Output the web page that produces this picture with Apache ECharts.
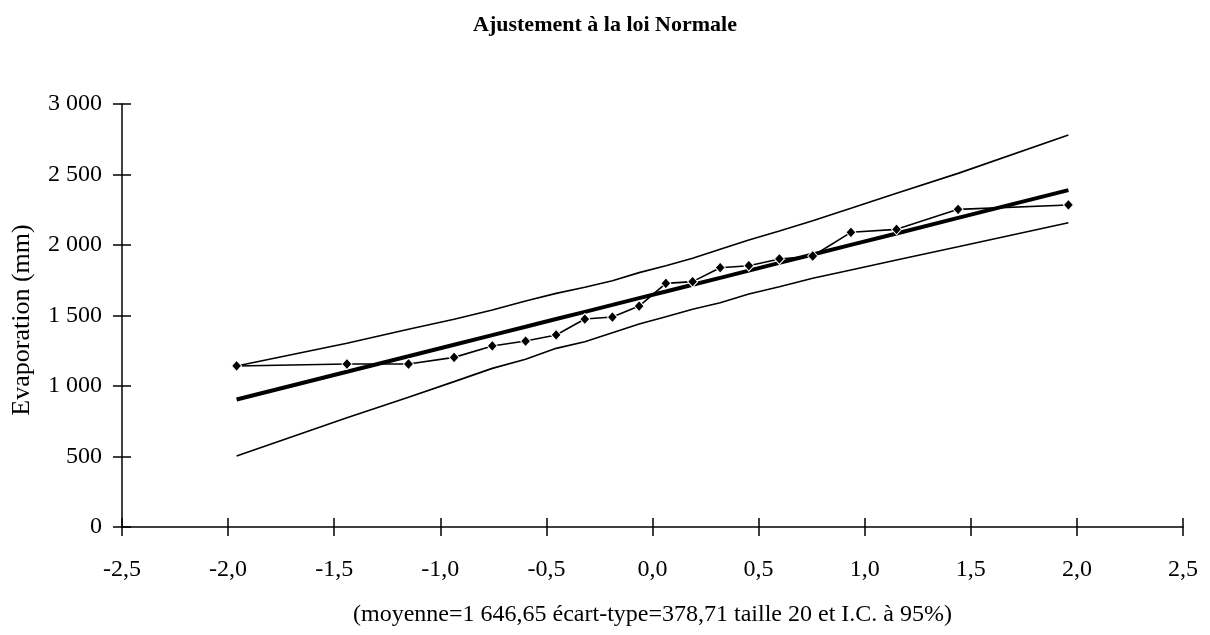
<!DOCTYPE html>
<html>
<head>
<meta charset="utf-8">
<script src="https://cdn.jsdelivr.net/npm/echarts@6/dist/echarts.min.js"></script>
<style>
  html, body { margin: 0; padding: 0; background: #fff; }
  #chart { width: 1210px; height: 635px; }
</style>
</head>
<body>
<div id="chart"></div>
<script>
// Normal quantiles of the 20 plotting positions
var zQuantiles = [-1.960, -1.440, -1.150, -0.935, -0.755, -0.598, -0.454, -0.319, -0.189, -0.063,
                  0.063, 0.189, 0.319, 0.454, 0.598, 0.755, 0.935, 1.150, 1.440, 1.960];
// Observed evaporation (mm), sorted
var observed = [1142, 1156, 1156, 1203, 1284, 1319, 1362, 1475, 1489, 1567,
                1728, 1740, 1839, 1853, 1901, 1922, 2090, 2111, 2253, 2284];
// Fitted normal line
var fitted = [904, 1101, 1211, 1293, 1361, 1420, 1475, 1526, 1575, 1623,
              1670, 1718, 1767, 1818, 1873, 1933, 2001, 2082, 2192, 2389];
// 95% confidence bounds
var upperBound = [1142, 1303, 1402, 1473, 1539, 1603, 1657, 1700, 1747, 1804,
                  1853, 1906, 1970, 2035, 2099, 2172, 2260, 2367, 2508, 2780];
var lowerBound = [504, 775, 920, 1031, 1125, 1189, 1267, 1314, 1378, 1440,
                  1491, 1544, 1591, 1652, 1704, 1764, 1823, 1894, 1988, 2158];

var titleText = 'Ajustement à la loi Normale';
var xName = '(moyenne=1 646,65 écart-type=378,71 taille 20 et I.C. à 95%)';
var yName = 'Evaporation (mm)';

function pairs(ys) {
  return zQuantiles.map(function (z, i) { return [z, ys[i]]; });
}

var FONT = '"Liberation Serif", "Times New Roman", serif';
var chart = echarts.init(document.getElementById('chart'));

var xFmt = function (v) { return v.toFixed(1).replace('.', ','); };
var yFmt = function (v) { return String(v).replace(/\B(?=(\d{3})+(?!\d))/g, ' '); };

var GRID = { left: 122, right: 27, top: 104, bottom: 108 };
var plotCenterX = GRID.left + (1210 - GRID.left - GRID.right) / 2;

var xBase = { type: 'value', min: -2.5, max: 2.5, interval: 0.5, splitLine: { show: false } };
var yBase = { type: 'value', min: 0, max: 3000, interval: 500, splitLine: { show: false } };
var tickStyle = { color: '#000', width: 1.5 };
var HALF_TICK = 9;

chart.setOption({
  animation: false,
  backgroundColor: '#fff',
  textStyle: { fontFamily: FONT, color: '#000' },
  title: {
    text: titleText, left: 'center', top: 9,
    textStyle: { fontFamily: FONT, fontWeight: 'bold', fontSize: 22, color: '#000' }
  },
  grid: GRID,
  xAxis: [
    // axis line and labels
    Object.assign({}, xBase, {
      position: 'bottom',
      axisLine: { show: true, onZero: false, lineStyle: { color: '#000', width: 1.5 } },
      axisTick: { show: false },
      axisLabel: { formatter: xFmt, color: '#000', fontFamily: FONT, fontSize: 24, margin: 31 }
    }),
    // ticks crossing the axis line
    Object.assign({}, xBase, {
      position: 'bottom', offset: -HALF_TICK,
      axisLine: { show: false, onZero: false },
      axisTick: { show: true, inside: false, length: 2 * HALF_TICK, lineStyle: tickStyle },
      axisLabel: { show: false }
    })
  ],
  yAxis: [
    Object.assign({}, yBase, {
      position: 'left',
      axisLine: { show: true, onZero: false, lineStyle: { color: '#000', width: 1.5 } },
      axisTick: { show: false },
      axisLabel: { formatter: yFmt, color: '#000', fontFamily: FONT, fontSize: 24, margin: 20 }
    }),
    Object.assign({}, yBase, {
      position: 'left', offset: -HALF_TICK,
      axisLine: { show: false, onZero: false },
      axisTick: { show: true, inside: false, length: 2 * HALF_TICK, lineStyle: tickStyle },
      axisLabel: { show: false }
    })
  ],
  graphic: [
    {
      type: 'text', x: plotCenterX, y: 603,
      style: { text: xName, font: '24px ' + FONT, fill: '#000', align: 'center', verticalAlign: 'top' }
    },
    {
      type: 'text', x: 9, y: 320, rotation: Math.PI / 2,
      style: { text: yName, font: '26px ' + FONT, fill: '#000', align: 'center', verticalAlign: 'top' }
    }
  ],
  series: [
    {
      name: 'borne sup', type: 'line', data: pairs(upperBound), showSymbol: false, symbol: 'none',
      lineStyle: { color: '#000', width: 1.6 }, z: 2
    },
    {
      name: 'borne inf', type: 'line', data: pairs(lowerBound), showSymbol: false, symbol: 'none',
      lineStyle: { color: '#000', width: 1.6 }, z: 2
    },
    {
      name: 'ajustement', type: 'line', data: pairs(fitted), showSymbol: false, symbol: 'none',
      lineStyle: { color: '#000', width: 4 }, z: 3
    },
    {
      name: 'observations', type: 'line', data: pairs(observed),
      symbol: 'diamond', symbolSize: [10, 11], showSymbol: true,
      itemStyle: { color: '#000', borderColor: '#fff', borderWidth: 1 },
      lineStyle: { color: '#000', width: 1.6 }, z: 4
    }
  ]
});
</script>
</body>
</html>
